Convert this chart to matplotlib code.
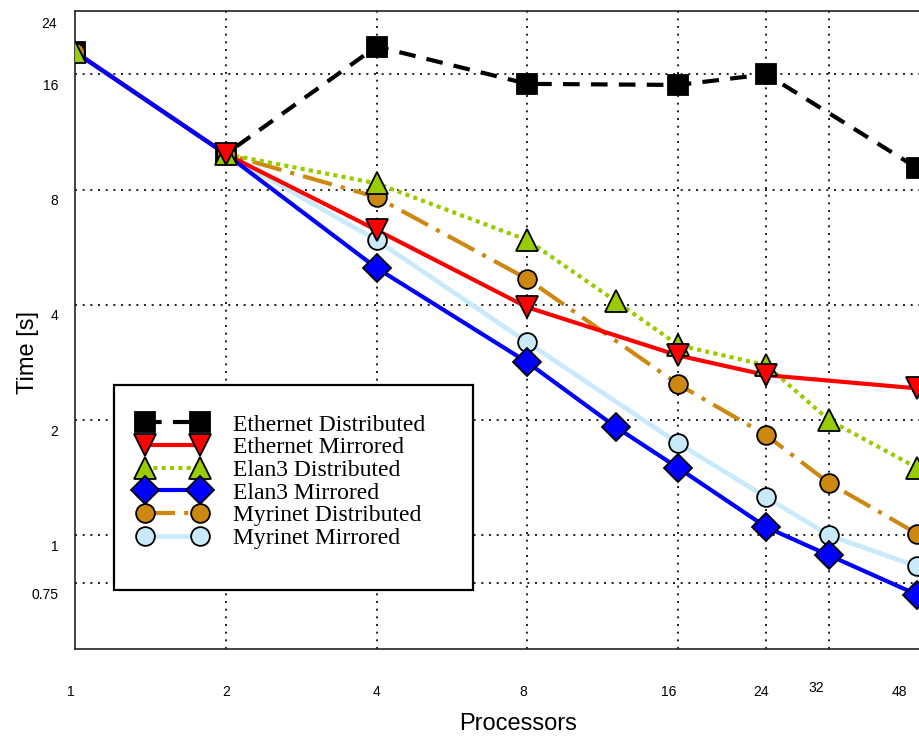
import matplotlib
matplotlib.use("Agg")
import matplotlib.pyplot as plt
from matplotlib.lines import Line2D
from matplotlib.patches import Rectangle
from matplotlib.ticker import NullLocator
from matplotlib.transforms import ScaledTranslation

plt.rcParams["font.family"] = ["Liberation Sans", "DejaVu Sans"]

# timings (seconds)
eth_dist_x = [1, 2, 4, 8, 16, 24, 48]
eth_dist_y = [18.3, 9.9, 18.9, 15.1, 15.0, 16.0, 9.1]
eth_mirr_x = [1, 2, 4, 8, 16, 24, 48]
eth_mirr_y = [18.3, 9.9, 6.27, 3.94, 2.95, 2.62, 2.42]
elan_dist_x = [1, 2, 4, 8, 12, 16, 24, 32, 48]
elan_dist_y = [18.3, 9.9, 8.3, 5.9, 4.09, 3.14, 2.78, 2.0, 1.5]
elan_mirr_x = [1, 2, 4, 8, 12, 16, 24, 32, 48]
elan_mirr_y = [18.3, 9.9, 4.99, 2.83, 1.92, 1.50, 1.05, 0.887, 0.70]
myr_dist_x = [1, 2, 4, 8, 16, 24, 32, 48]
myr_dist_y = [18.3, 9.9, 7.64, 4.67, 2.48, 1.825, 1.37, 1.01]
myr_mirr_x = [1, 2, 4, 8, 16, 24, 32, 48]
myr_mirr_y = [18.3, 9.9, 5.9, 3.19, 1.74, 1.257, 1.0, 0.83]

labels = ["Ethernet Distributed", "Ethernet Mirrored", "Elan3 Distributed",
          "Elan3 Mirrored", "Myrinet Distributed", "Myrinet Mirrored"]
xticks = [1, 2, 4, 8, 16, 24, 32, 48]
yticks = [0.75, 1, 2, 4, 8, 16]
xgrid = [2, 4, 8, 16, 24, 32]

series = [
    # x, y, color, linestyle, marker, ms, line z, marker z, first marker
    (eth_dist_x, eth_dist_y, "black", (0, (4.0, 2.7)), "s", 14, 2.0, 3.0, 0),
    (eth_mirr_x, eth_mirr_y, "#ff0000", "-", "v", 16.5, 2.4, 3.5, 1),
    (elan_dist_x, elan_dist_y, "#99cc00", (0, (1.0, 1.0)), "^", 16.5, 2.2, 3.4, 0),
    (elan_mirr_x, elan_mirr_y, "#0000ff", "-", "D", 14, 2.5, 3.3, 2),
    (myr_dist_x, myr_dist_y, "#cc8811", (0, (7.2, 2.2, 1.0, 2.2)), "o", 13.5, 2.1, 3.1, 0),
    (myr_mirr_x, myr_mirr_y, "#c8eafa", "-", "o", 13.5, 2.3, 3.2, 2),
]

fig = plt.figure(figsize=(9.19, 7.38), dpi=100)
ax = fig.add_axes([75 / 919, 89 / 738, 844 / 919, 638 / 738])
ax.set_xscale("log")
ax.set_yscale("log")
ax.set_xlim(1, 48.4)
ax.set_ylim(0.505, 23.4)

handles = []
for (x, y, c, ls, mk, ms, lz, mz, m0), lab in zip(series, labels):
    lw = 3.4 if c == "#c8eafa" else 3.0
    ax.plot(x, y, color=c, ls=ls, lw=lw, zorder=lz)
    ax.plot(x[m0:], y[m0:], ls="none", marker=mk, ms=ms, mfc=c, mec="black",
            mew=1.3, zorder=mz)
    handles.append(Line2D([], [], color=c, ls=ls, lw=lw, marker=mk, ms=ms,
                          mfc=c, mec="black", mew=1.3, label=lab))

# dotted grid
for v in yticks:
    ax.axhline(v, color="black", lw=1.2, ls=(0, (1.2, 3.4)), zorder=1)
for v in xgrid:
    ax.axvline(v, color="black", lw=1.2, ls=(0, (1.2, 3.4)), zorder=1)

ax.xaxis.set_minor_locator(NullLocator())
ax.yaxis.set_minor_locator(NullLocator())
ax.set_xticks(xticks)
ax.set_xticklabels([str(v) for v in xticks])
ax.set_yticks(yticks)
ax.set_yticklabels(["0.75", "1", "2", "4", "8", "16"])
ax.tick_params(axis="both", length=0, labelsize=10)
ax.tick_params(axis="x", pad=26)
ax.tick_params(axis="y", pad=12)

# tick labels sit a bit off their grid lines in the original
x_nudge = [-4, 0, 0, -4, -9, -5, -13, -18]
x_lift = [0, 0, 0, 0, 0, 0, 4, 0]
for lab, dx, dy in zip(ax.get_xticklabels(), x_nudge, x_lift):
    lab.set_transform(lab.get_transform() + ScaledTranslation(dx / 100, dy / 100, fig.dpi_scale_trans))
for lab in ax.get_yticklabels():
    lab.set_transform(lab.get_transform() + ScaledTranslation(0, -0.1, fig.dpi_scale_trans))
ax.text(0, 1, "24", transform=ax.transAxes + ScaledTranslation(-0.18, -0.13, fig.dpi_scale_trans),
        ha="right", va="center", fontsize=10)

for side in ["left", "top", "bottom"]:
    ax.spines[side].set_linewidth(1.2)
    ax.spines[side].set_color("#222222")
ax.spines["right"].set_visible(False)

ax.set_xlabel("Processors", fontsize=17)
ax.set_ylabel("Time [s]", fontsize=17)
ax.xaxis.set_label_coords(0.525, -0.1)
ax.yaxis.set_label_coords(-0.043, 0.465)

# legend box
ax.add_patch(Rectangle((114 / 919, 148 / 738), 359 / 919, 205 / 738, transform=fig.transFigure,
                       facecolor="white", edgecolor="black", lw=1.6, zorder=4))
leg = ax.legend(handles=handles, loc="upper left", bbox_to_anchor=(138 / 919, 1 - 414 / 738),
                bbox_transform=fig.transFigure, frameon=False, numpoints=2,
                handlelength=2.92, handletextpad=1.1, labelspacing=0.05,
                borderpad=0, borderaxespad=0,
                prop={"family": "Liberation Serif", "size": 17})
leg.set_zorder(5)

fig.savefig("out.png", dpi=100)
